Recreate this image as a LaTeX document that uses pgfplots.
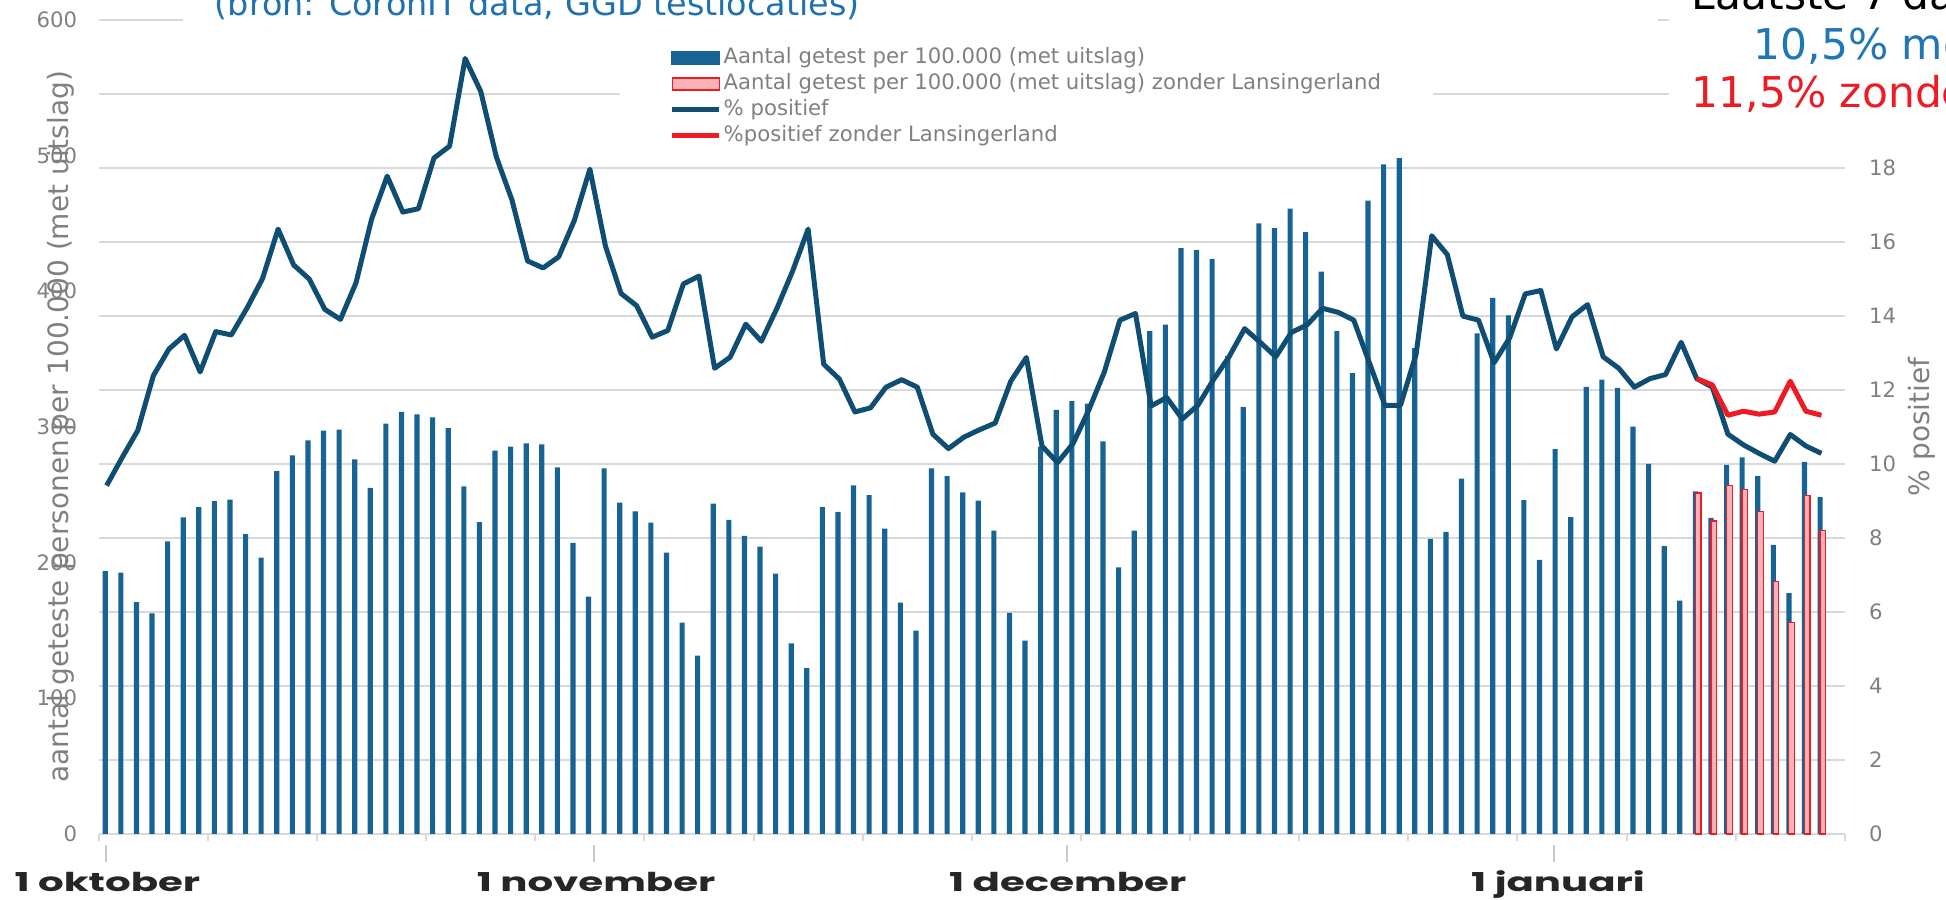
\documentclass[border=0pt]{standalone}
\usepackage{pgfplots}
\pgfplotsset{compat=1.18}
\usepackage{pgfplotstable}
\usepackage{fontspec}
\setmainfont{DejaVu Sans}
\newfontfamily\monthfont[FakeStretch=1.55]{Poppins}

\definecolor{barblue}{RGB}{22,99,148}
\definecolor{lineblue}{RGB}{15,77,114}
\definecolor{cred}{RGB}{237,28,36}
\definecolor{pinkfill}{RGB}{247,178,182}
\definecolor{gridgray}{RGB}{217,217,217}
\definecolor{tickgray}{RGB}{128,128,128}
\definecolor{titleblue}{RGB}{31,113,176}
\definecolor{textblue}{RGB}{31,119,180}
\definecolor{markgray}{RGB}{200,200,200}

\pgfplotstableread{
d bar pct
0 193.7 9.41
1 192.6 10.17
2 170.7 10.90
3 162.5 12.38
4 215.5 13.10
5 233.2 13.47
6 240.7 12.48
7 245.2 13.57
8 246.3 13.48
9 220.8 14.20
10 203.5 15.00
11 267.4 16.34
12 279.0 15.37
13 290.0 14.99
14 297.1 14.17
15 297.9 13.90
16 276.0 14.89
17 255.0 16.61
18 302.4 17.77
19 311.0 16.80
20 309.1 16.89
21 306.9 18.26
22 299.0 18.58
23 256.1 20.95
24 229.8 20.06
25 282.4 18.29
26 285.4 17.13
27 287.7 15.48
28 287.0 15.29
29 270.0 15.59
30 214.4 16.57
31 174.9 17.96
32 269.3 15.88
33 244.1 14.60
34 237.7 14.27
35 229.4 13.42
36 207.2 13.60
37 155.7 14.86
38 131.3 15.07
39 243.3 12.58
40 231.3 12.88
41 219.6 13.77
42 211.7 13.31
43 191.8 14.20
44 140.3 15.20
45 122.2 16.34
46 240.7 12.69
47 237.3 12.29
48 256.9 11.40
49 249.7 11.51
50 224.9 12.07
51 170.4 12.27
52 149.7 12.07
53 269.3 10.80
54 263.6 10.41
55 251.6 10.72
56 245.6 10.92
57 223.4 11.10
58 162.8 12.23
59 142.5 12.87
60 285.4 10.48
61 312.5 10.03
62 318.9 10.55
63 317.0 11.45
64 289.2 12.48
65 196.3 13.88
66 223.4 14.06
67 370.4 11.56
68 375.3 11.79
69 431.7 11.21
70 430.2 11.58
71 423.5 12.27
72 352.0 12.89
73 314.4 13.65
74 449.8 13.28
75 446.4 12.89
76 460.7 13.55
77 443.4 13.75
78 414.4 14.20
79 370.4 14.09
80 339.6 13.88
81 466.7 12.73
82 493.4 11.58
83 497.9 11.58
84 358.0 12.96
85 217.4 16.16
86 222.6 15.65
87 261.8 13.99
88 368.9 13.88
89 394.9 12.73
90 382.1 13.40
91 246.0 14.59
92 202.0 14.68
93 283.6 13.10
94 233.5 13.97
95 329.4 14.30
96 334.7 12.89
97 328.7 12.58
98 300.1 12.07
99 272.7 12.30
100 212.1 12.41
101 171.9 13.28
102 252.3 12.30
103 232.8 12.07
104 271.9 10.80
105 277.5 10.51
106 263.6 10.28
107 212.9 10.07
108 177.5 10.79
109 274.2 10.48
110 248.2 10.28
}\maintab

\pgfplotstableread{
d bar pct
102 251.2 12.30
103 230.5 12.13
104 256.9 11.31
105 253.9 11.42
106 237.3 11.34
107 186.2 11.40
108 155.7 12.23
109 249.3 11.42
110 223.4 11.31
}\redtab

\begin{document}
\begin{tikzpicture}
\begin{axis}[
  at={(24.7pt,16.275pt)}, anchor=south west,
  scale only axis, width=436.5pt, height=203.575pt,
  xmin=-0.5, xmax=111.5, ymin=0, ymax=600,
  clip=false,
  axis x line*=bottom, axis y line*=left,
  x axis line style={draw=gridgray, line width=0.5pt},
  y axis line style={draw=none},
  xtick={-0.5,6.5,...,111.5}, xticklabels={},
  tick align=outside,
  xtick style={draw=gridgray, line width=0.5pt},
  major tick length=1.75pt,
  ytick={0,100,...,600},
  ytick style={draw=none},
  extra y ticks={54.545,109.091,163.636,218.182,272.727,327.273,381.818,436.364,490.909,545.455,600},
  extra y tick labels={},
  extra y tick style={grid=major, major tick length=0pt},
  major grid style={draw=gridgray, line width=0.5pt},
  /pgf/number format/assume math mode=true,
  yticklabel style={font=\fontsize{5.3}{6}\selectfont, text=tickgray, anchor=east, inner sep=0pt, text width=12pt, align=right, xshift=-3.45pt},
  ylabel={aantal geteste personen per 100.000 (met uitslag)},
  ylabel style={at={(axis description cs:-0.0171,0.5)}, anchor=base, font=\fontsize{7}{8}\selectfont, text=tickgray, inner sep=0pt},
]
\addplot[ybar, bar width=0.33, bar shift=-0.085, fill=barblue, draw=none] table[x=d, y=bar]{\maintab};
\addplot[ybar, bar width=0.36, bar shift=0.09, fill=pinkfill, draw=cred, line width=0.3pt] table[x=d, y=bar]{\redtab};
\draw[markgray, line width=0.5pt] (axis cs:-0.04,-8.2) -- (axis cs:-0.04,-20.7);
\draw[markgray, line width=0.5pt] (axis cs:31.25,-8.2) -- (axis cs:31.25,-20.7);
\draw[markgray, line width=0.5pt] (axis cs:61.59,-8.2) -- (axis cs:61.59,-20.7);
\draw[markgray, line width=0.5pt] (axis cs:92.86,-8.2) -- (axis cs:92.86,-20.7);
\node[anchor=base, inner sep=0pt, text={black!85}, font=\monthfont\bfseries\fontsize{6.5}{7}\selectfont] at (axis cs:0.05,-42.8) {1 oktober};
\node[anchor=base, inner sep=0pt, text={black!85}, font=\monthfont\bfseries\fontsize{6.5}{7}\selectfont] at (axis cs:31.4,-42.8) {1 november};
\node[anchor=base, inner sep=0pt, text={black!85}, font=\monthfont\bfseries\fontsize{6.5}{7}\selectfont] at (axis cs:61.65,-42.8) {1 december};
\node[anchor=base, inner sep=0pt, text={black!85}, font=\monthfont\bfseries\fontsize{6.5}{7}\selectfont] at (axis cs:93.1,-42.8) {1 januari};
\end{axis}

\begin{axis}[
  at={(24.7pt,16.275pt)}, anchor=south west,
  scale only axis, width=436.5pt, height=203.575pt,
  xmin=-0.5, xmax=111.5, ymin=0, ymax=22,
  clip=false,
  axis x line=none, axis y line*=right,
  y axis line style={draw=none},
  ytick={0,2,...,18}, ytick style={draw=none},
  /pgf/number format/assume math mode=true,
  yticklabel style={font=\fontsize{5.3}{6}\selectfont, text=tickgray, anchor=west, inner sep=0pt, xshift=5.9pt},
  ylabel={\% positief},
  ylabel style={at={(axis description cs:1.0482,0.5)}, anchor=base, font=\fontsize{7}{8}\selectfont, text=tickgray, inner sep=0pt},
  legend cell align=left,
  legend style={at={(axis description cs:0.2979,0.9743)}, anchor=north west, draw=none, fill=white,
    inner xsep=12.5pt, inner ysep=1pt, font=\fontsize{5.3}{6}\selectfont, text=tickgray,
    row sep=0.2pt, nodes={inner sep=0.5pt, text height=3.95pt, text depth=1.35pt}},
]
\addlegendimage{legend image code/.code={\fill[barblue] (0pt,-1.5pt) rectangle (11.75pt,1.5pt);}}
\addlegendentry{Aantal getest per 100.000 (met uitslag)}
\addlegendimage{legend image code/.code={\filldraw[fill=pinkfill, draw=cred, line width=0.3pt] (0pt,-1.5pt) rectangle (11.75pt,1.5pt);}}
\addlegendentry{Aantal getest per 100.000 (met uitslag) zonder Lansingerland}
\addplot[lineblue, line width=1.25pt, line join=round, legend image code/.code={\draw (0pt,0pt) -- (11.75pt,0pt);}] table[x=d, y=pct]{\maintab};
\addlegendentry{\% positief}
\addplot[cred, line width=1.25pt, line join=round, legend image code/.code={\draw (0pt,0pt) -- (11.75pt,0pt);}] table[x=d, y=pct]{\redtab};
\addlegendentry{\%positief zonder Lansingerland}
\end{axis}

\fill[white] (45.75pt,216.75pt) rectangle (414.5pt,226pt);
\fill[white] (417.25pt,193.5pt) rectangle (488pt,226pt);
\begin{scope}
\clip (0pt,0pt) rectangle (486.5pt,224.75pt);
\node[anchor=base west, inner sep=0pt, text=titleblue, font=\fontsize{8.36}{10}\selectfont] at (53.5pt,220.75pt) {(bron: CoronIT data, GGD testlocaties)};
\node[anchor=base west, inner sep=0pt, text=black, font=\fontsize{10.6}{12}\selectfont] at (422.75pt,222.25pt) {Laatste 7 dagen};
\node[anchor=base west, inner sep=0pt, text=textblue, font=\fontsize{10.6}{12}\selectfont] at (438.25pt,209.75pt) {10,5\% met Lansingerland};
\node[anchor=base west, inner sep=0pt, text=cred, font=\fontsize{10.6}{12}\selectfont] at (422.75pt,197.75pt) {11,5\% zonder Lansingerland};
\end{scope}
\pgfresetboundingbox
\path[use as bounding box] (0pt,0pt) rectangle (486.5pt,224.75pt);
\end{tikzpicture}
\end{document}
